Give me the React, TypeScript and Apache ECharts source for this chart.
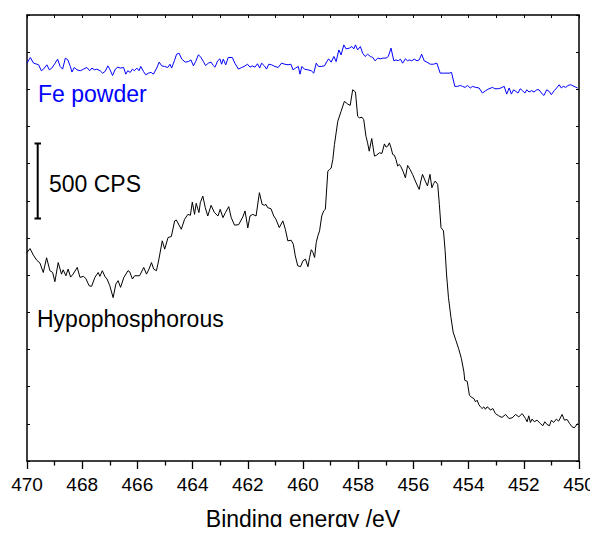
import React, { useEffect, useRef } from "react";
import * as echarts from "echarts";

// Binding energy (eV) and counts (CPS) for the hypophosphorous-treated sample
const hypoEnergy = [
  470.0, 469.89, 469.77, 469.65, 469.53, 469.41, 469.29, 469.17, 469.07, 468.99,
  468.87, 468.75, 468.69, 468.59, 468.51, 468.42, 468.33, 468.18, 468.08, 467.96,
  467.87, 467.75, 467.66, 467.54, 467.42, 467.36, 467.27, 467.18, 467.1, 467.0,
  466.88, 466.78, 466.7, 466.61, 466.49, 466.34, 466.28, 466.18, 466.1, 465.92,
  465.77, 465.67, 465.58, 465.49, 465.41, 465.31, 465.22, 465.1, 465.01, 464.89,
  464.77, 464.65, 464.59, 464.41, 464.29, 464.17, 464.08, 464.01, 463.93, 463.87,
  463.77, 463.72, 463.63, 463.54, 463.45, 463.33, 463.21, 463.08, 463.0, 462.9,
  462.81, 462.69, 462.6, 462.48, 462.33, 462.18, 462.1, 462.0, 461.92, 461.82,
  461.7, 461.58, 461.48, 461.4, 461.34, 461.28, 461.16, 461.06, 460.98, 460.86,
  460.73, 460.64, 460.55, 460.43, 460.35, 460.28, 460.19, 460.09, 460.0, 459.91,
  459.82, 459.76, 459.7, 459.64, 459.58, 459.52, 459.46, 459.4, 459.32, 459.25,
  459.19, 459.1, 459.04, 458.98, 458.92, 458.86, 458.8, 458.74, 458.62, 458.5,
  458.38, 458.29, 458.2, 458.1, 458.02, 457.96, 457.86, 457.8, 457.72, 457.66,
  457.6, 457.51, 457.41, 457.35, 457.23, 457.14, 457.05, 456.99, 456.93, 456.87,
  456.81, 456.75, 456.69, 456.63, 456.57, 456.51, 456.45, 456.37, 456.29, 456.21,
  456.12, 456.03, 455.93, 455.85, 455.79, 455.73, 455.67, 455.57, 455.49, 455.4,
  455.33, 455.27, 455.21, 455.12, 455.06, 455.0, 454.91, 454.85, 454.8, 454.73,
  454.64, 454.56, 454.46, 454.36, 454.26, 454.17, 454.14, 454.05, 453.97, 453.91,
  453.81, 453.75, 453.69, 453.63, 453.57, 453.51, 453.45, 453.39, 453.33, 453.27,
  453.21, 453.12, 453.03, 452.91, 452.79, 452.66, 452.54, 452.42, 452.3, 452.18,
  452.06, 451.94, 451.88, 451.82, 451.76, 451.7, 451.62, 451.52, 451.4, 451.31,
  451.24, 451.16, 451.07, 451.0, 450.92, 450.82, 450.74, 450.61, 450.53, 450.43,
  450.34, 450.25, 450.17, 450.1, 450.04,
];
const hypoCps = [
  1402, 1429, 1385, 1351, 1331, 1268, 1367, 1280, 1268, 1206,
  1335, 1257, 1286, 1246, 1291, 1237, 1257, 1302, 1235, 1242,
  1228, 1179, 1175, 1235, 1268, 1242, 1280, 1242, 1224, 1179,
  1099, 1190, 1213, 1168, 1235, 1280, 1273, 1224, 1246, 1246,
  1302, 1257, 1291, 1335, 1291, 1280, 1358, 1481, 1425, 1503,
  1510, 1615, 1621, 1559, 1626, 1659, 1653, 1742, 1659, 1733,
  1671, 1738, 1782, 1704, 1648, 1720, 1671, 1648, 1693, 1637,
  1671, 1711, 1637, 1586, 1590, 1642, 1682, 1568, 1648, 1659,
  1648, 1805, 1726, 1720, 1726, 1704, 1697, 1648, 1626, 1570,
  1615, 1559, 1481, 1485, 1458, 1380, 1313, 1307, 1347, 1358,
  1307, 1369, 1421, 1403, 1369, 1470, 1515, 1548, 1649, 1682,
  1693, 1950, 1961, 1970, 2028, 2129, 2207, 2285, 2352, 2419,
  2401, 2392, 2497, 2482, 2319, 2308, 2312, 2296, 2185, 2140,
  2084, 2169, 2051, 2055, 2073, 2069, 2133, 2111, 2118, 2140,
  2107, 2062, 2057, 2028, 1984, 1995, 1979, 1946, 1905, 1988,
  1961, 1928, 1883, 1850, 1827, 1883, 1928, 1883, 1850, 1928,
  1838, 1865, 1883, 1861, 1727, 1570, 1548, 1414, 1258, 1101,
  967, 867, 811, 755, 688, 599, 543, 536, 442, 431,
  420, 398, 409, 380, 364, 353, 364, 348, 364, 357,
  342, 353, 319, 304, 293, 313, 286, 290, 313, 297,
  319, 286, 264, 304, 259, 282, 264, 275, 252, 237,
  264, 246, 237, 275, 259, 282, 268, 313, 275, 279,
  252, 230, 223, 241, 252,
];

// Binding energy (eV) and counts (CPS) for Fe powder
const feEnergy = [
  470.0, 469.88, 469.76, 469.64, 469.58, 469.48, 469.4, 469.28, 469.19, 469.1,
  468.98, 468.89, 468.8, 468.71, 468.61, 468.52, 468.43, 468.37, 468.29, 468.19,
  468.07, 467.95, 467.83, 467.73, 467.65, 467.55, 467.47, 467.35, 467.26, 467.17,
  467.07, 466.99, 466.9, 466.8, 466.71, 466.62, 466.5, 466.42, 466.35, 466.26,
  466.18, 466.11, 466.02, 465.94, 465.88, 465.78, 465.7, 465.6, 465.5, 465.42,
  465.3, 465.21, 465.12, 465.02, 464.9, 464.82, 464.76, 464.66, 464.58, 464.49,
  464.39, 464.27, 464.15, 464.06, 463.97, 463.89, 463.79, 463.7, 463.61, 463.53,
  463.43, 463.33, 463.25, 463.19, 463.09, 463.01, 462.95, 462.89, 462.8, 462.71,
  462.56, 462.47, 462.34, 462.22, 462.13, 462.01, 461.92, 461.84, 461.74, 461.65,
  461.57, 461.5, 461.4, 461.32, 461.24, 461.14, 461.02, 460.9, 460.78, 460.66,
  460.54, 460.44, 460.36, 460.27, 460.17, 460.11, 460.04, 459.95, 459.82, 459.7,
  459.61, 459.52, 459.44, 459.34, 459.22, 459.14, 459.07, 458.98, 458.88, 458.8,
  458.7, 458.62, 458.52, 458.44, 458.32, 458.23, 458.16, 458.1, 458.02, 457.92,
  457.84, 457.75, 457.66, 457.56, 457.47, 457.39, 457.29, 457.2, 457.11, 456.99,
  456.91, 456.81, 456.71, 456.63, 456.55, 456.47, 456.39, 456.29, 456.21, 456.15,
  456.06, 455.97, 455.87, 455.79, 455.7, 455.61, 455.51, 455.39, 455.27, 455.15,
  455.03, 454.88, 454.7, 454.62, 454.5, 454.4, 454.3, 454.22, 454.13, 454.04,
  453.94, 453.86, 453.74, 453.62, 453.5, 453.38, 453.26, 453.13, 453.05, 452.93,
  452.83, 452.71, 452.62, 452.53, 452.45, 452.37, 452.29, 452.21, 452.13, 452.05,
  451.96, 451.89, 451.81, 451.72, 451.63, 451.53, 451.45, 451.33, 451.27, 451.17,
  451.08, 451.0, 450.9, 450.81, 450.72, 450.64, 450.57, 450.48, 450.4, 450.3,
  450.18, 450.05,
];
const feCps = [
  2676, 2714, 2676, 2669, 2665, 2625, 2636, 2665, 2631, 2643,
  2676, 2703, 2654, 2636, 2710, 2698, 2654, 2616, 2647, 2631,
  2625, 2636, 2647, 2625, 2643, 2631, 2636, 2625, 2609, 2620,
  2658, 2631, 2593, 2636, 2649, 2643, 2647, 2602, 2625, 2614,
  2636, 2625, 2643, 2625, 2654, 2620, 2598, 2609, 2614, 2602,
  2643, 2683, 2658, 2654, 2647, 2669, 2643, 2692, 2736, 2743,
  2703, 2683, 2687, 2698, 2658, 2687, 2732, 2716, 2687, 2660,
  2676, 2683, 2660, 2649, 2692, 2705, 2669, 2703, 2665, 2714,
  2714, 2676, 2636, 2647, 2654, 2669, 2649, 2658, 2649, 2672,
  2643, 2676, 2658, 2636, 2669, 2665, 2654, 2647, 2676, 2669,
  2665, 2669, 2631, 2643, 2654, 2602, 2654, 2636, 2631, 2625,
  2609, 2676, 2654, 2654, 2658, 2687, 2705, 2683, 2721, 2687,
  2765, 2732, 2799, 2772, 2777, 2788, 2772, 2799, 2765, 2788,
  2743, 2721, 2736, 2721, 2714, 2692, 2710, 2705, 2710, 2710,
  2721, 2777, 2692, 2698, 2692, 2703, 2676, 2705, 2692, 2698,
  2692, 2703, 2692, 2698, 2736, 2692, 2683, 2669, 2669, 2676,
  2609, 2609, 2609, 2614, 2520, 2520, 2526, 2520, 2513, 2526,
  2509, 2520, 2513, 2509, 2475, 2491, 2504, 2513, 2504, 2504,
  2509, 2520, 2468, 2509, 2468, 2497, 2486, 2475, 2504, 2491,
  2475, 2497, 2482, 2491, 2482, 2497, 2497, 2468, 2459, 2497,
  2486, 2464, 2491, 2509, 2531, 2509, 2520, 2513, 2526, 2531,
  2520, 2509,
];

const xTickValues = [470, 468, 466, 464, 462, 460, 458, 456, 454, 452, 450];

const FONT = "'Liberation Sans', Arial, Helvetica, sans-serif";

export default function App() {
  const ref = useRef<HTMLDivElement>(null);

  useEffect(() => {
    if (!ref.current) return;
    const chart = echarts.init(ref.current, null, { renderer: "svg" });

    const hypoData = hypoEnergy.map((e, i) => [e, hypoCps[i]]);
    const feData = feEnergy.map((e, i) => [e, feCps[i]]);

    chart.setOption({
      animation: false,
      backgroundColor: "#ffffff",
      grid: { left: 27, right: 19, top: 15, bottom: 72, containLabel: false },
      xAxis: [
        {
          type: "value",
          min: 450,
          max: 470,
          interval: 2,
          inverse: true,
          position: "bottom",
          name: "Binding energy /eV",
          nameLocation: "middle",
          nameGap: 46,
          nameTextStyle: { fontFamily: FONT, fontSize: 23, color: "#000" },
          axisLine: { show: true, onZero: false, lineStyle: { color: "#000", width: 1.5 } },
          axisTick: { show: true, inside: false, length: 8, lineStyle: { color: "#000", width: 1.3 } },
          minorTick: { show: true, splitNumber: 2, length: 4.5, lineStyle: { color: "#000", width: 1.3 } },
          axisLabel: {
            show: true,
            fontFamily: FONT,
            fontSize: 19,
            color: "#000",
            margin: 14,
            formatter: (v: number) => (xTickValues.indexOf(v) >= 0 ? String(v) : ""),
          },
          splitLine: { show: false },
        },
        {
          type: "value",
          min: 450,
          max: 470,
          interval: 1,
          inverse: true,
          position: "top",
          axisLine: { show: true, onZero: false, lineStyle: { color: "#000", width: 1.5 } },
          axisTick: { show: true, inside: true, length: 3, lineStyle: { color: "#000", width: 1 } },
          axisLabel: { show: false },
          splitLine: { show: false },
        },
      ],
      yAxis: [
        {
          type: "value",
          min: 0,
          max: 3000,
          interval: 250,
          position: "left",
          axisLine: { show: true, onZero: false, lineStyle: { color: "#000", width: 1.5 } },
          axisTick: { show: true, inside: true, length: 3, lineStyle: { color: "#000", width: 1 } },
          axisLabel: { show: false },
          splitLine: { show: false },
        },
        {
          type: "value",
          min: 0,
          max: 3000,
          interval: 250,
          position: "right",
          axisLine: { show: true, onZero: false, lineStyle: { color: "#000", width: 1.5 } },
          axisTick: { show: true, inside: true, length: 3, lineStyle: { color: "#000", width: 1 } },
          axisLabel: { show: false },
          splitLine: { show: false },
        },
      ],
      series: [
        {
          name: "Fe powder",
          type: "line",
          xAxisIndex: 0,
          yAxisIndex: 0,
          data: feData,
          showSymbol: false,
          symbol: "none",
          lineStyle: { color: "#0000ff", width: 1 },
          silent: true,
        },
        {
          name: "Hypophosphorous",
          type: "line",
          xAxisIndex: 0,
          yAxisIndex: 0,
          data: hypoData,
          showSymbol: false,
          symbol: "none",
          lineStyle: { color: "#000000", width: 1 },
          silent: true,
        },
      ],
      graphic: [
        {
          type: "text",
          left: 38,
          top: 94.3 - 11.5,
          style: { text: "Fe powder", fontFamily: FONT, fontSize: 23, fill: "#0000ff" },
        },
        {
          type: "text",
          left: 49,
          top: 183.7 - 11.5,
          style: { text: "500 CPS", fontFamily: FONT, fontSize: 23, fill: "#000" },
        },
        {
          type: "text",
          left: 37,
          top: 318.7 - 11.5,
          style: { text: "Hypophosphorous", fontFamily: FONT, fontSize: 23, fill: "#000" },
        },
        {
          type: "line",
          shape: { x1: 37.7, y1: 143.5, x2: 37.7, y2: 218.5 },
          style: { stroke: "#000", lineWidth: 2 },
        },
        {
          type: "line",
          shape: { x1: 34.5, y1: 143.5, x2: 41, y2: 143.5 },
          style: { stroke: "#000", lineWidth: 2 },
        },
        {
          type: "line",
          shape: { x1: 34.5, y1: 218.5, x2: 41, y2: 218.5 },
          style: { stroke: "#000", lineWidth: 2 },
        },
      ],
    });

    return () => chart.dispose();
  }, []);

  return <div ref={ref} style={{ width: 598, height: 535, margin: -8 }} />;
}
